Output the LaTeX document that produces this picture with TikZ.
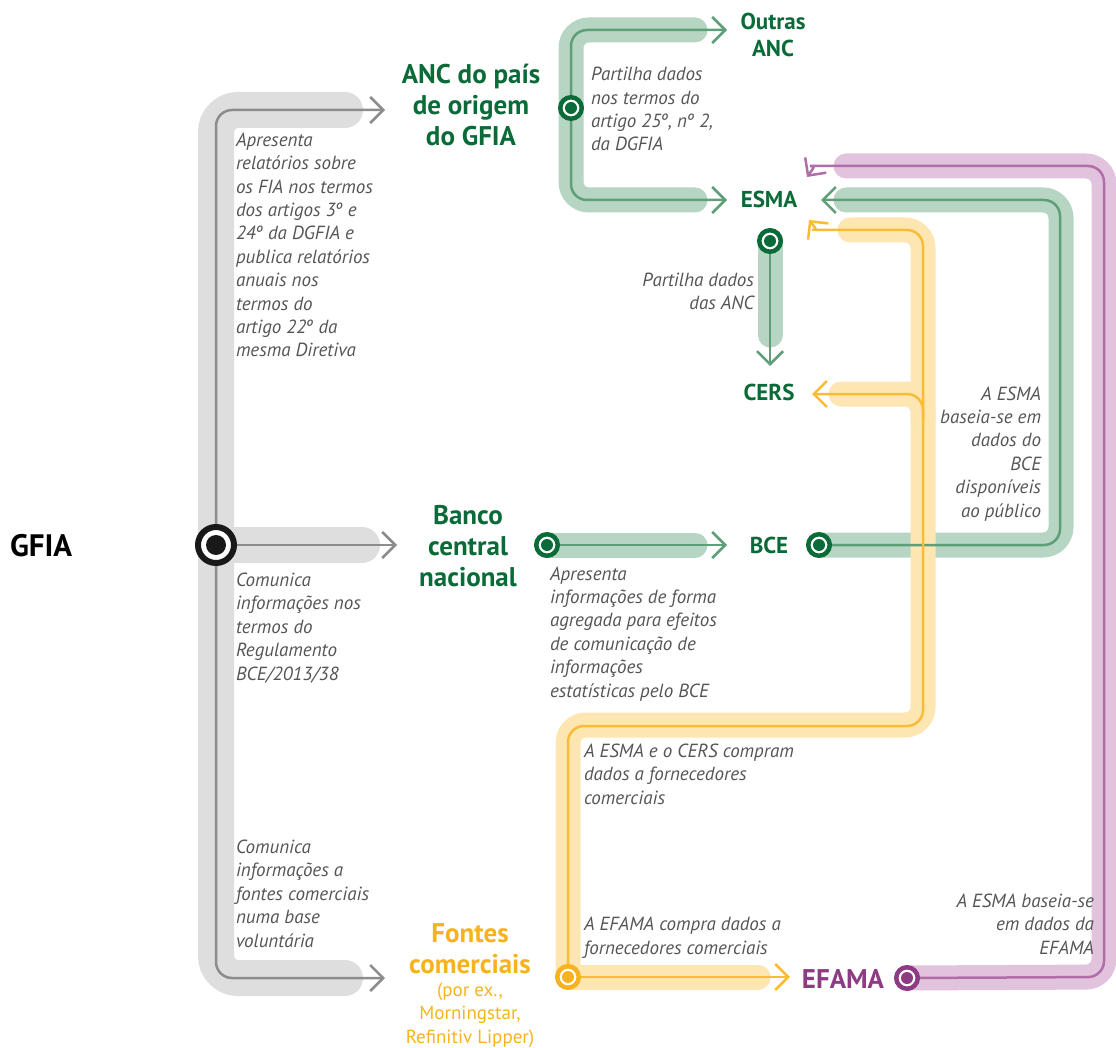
\documentclass[tikz,border=0pt]{standalone}
\usepackage{fontspec}
\setmainfont{PT Sans}
\usetikzlibrary{arrows.meta}
\definecolor{gband}{HTML}{DEDEDF}
\definecolor{gline}{HTML}{8C8C8C}
\definecolor{grband}{HTML}{B6D5C3}
\definecolor{grline}{HTML}{5E9E79}
\definecolor{grdark}{HTML}{0A6A38}
\definecolor{yband}{HTML}{FDE6B2}
\definecolor{yline}{HTML}{FBBC35}
\definecolor{ytext}{HTML}{F7B31F}
\definecolor{pband}{HTML}{E2C3DD}
\definecolor{pline}{HTML}{B16DA7}
\definecolor{pdark}{HTML}{8D3B82}
\definecolor{txt}{HTML}{555555}
\pgfdeclarelayer{bandlayer}
\pgfdeclarelayer{linelayer}
\pgfsetlayers{bandlayer,linelayer,main}
\begin{document}
\begin{tikzpicture}[x=1pt,y=-1pt,
  every node/.style={inner sep=0pt, outer sep=0pt},
  note/.style={font=\itshape\fontsize{19}{23.4}\selectfont, text=txt},
  noteL/.style={note, align=left, anchor=base west},
  noteR/.style={note, align=right, anchor=base east},
  labA/.style={font=\bfseries\fontsize{27}{31}\selectfont, text=grdark, align=center, anchor=base},
  labB/.style={font=\bfseries\fontsize{23}{27}\selectfont, text=grdark, align=center, anchor=base},
  bandG/.style={draw=gband, line width=36pt, line cap=round, rounded corners=22pt},
  bandC/.style={draw=#1, line width=25pt, line cap=round, rounded corners=18pt},
  thin/.style={draw=#1, line width=2.5pt, rounded corners=16pt},
  arr/.style={-{Straight Barb[length=13pt,width=26pt]}},
  station/.style={circle, fill=white, draw=#1, line width=4.5pt, minimum size=21.5pt,
    path picture={\fill[#1] (path picture bounding box.center) circle (6pt);}},
  bigstation/.style={circle, fill=white, draw=black!90, line width=6pt, minimum size=36pt,
    path picture={\fill[black!90] (path picture bounding box.center) circle (10pt);}}
]
\useasboundingbox (0,0) rectangle (1116,1048);

% ---------- stations ----------
\node[bigstation] (gfia) at (216,545) {};
\node[station=grdark] (sANC) at (571,108) {};
\node[station=grdark] (sESMA) at (770,241) {};
\node[station=grdark] (sBanco) at (547,545) {};
\node[station=grdark] (sBCE) at (819,545) {};
\node[station=ytext] (sFontes) at (568,977) {};
\node[station=pdark] (sEFAMA) at (907,978) {};

% ---------- arrow tips ----------
\coordinate (aANC) at (385,110);
\coordinate (aBanco) at (397,545);
\coordinate (aFontes) at (385,978);
\coordinate (aOutras) at (727,30);
\coordinate (aESMA1) at (727,200);
\coordinate (aCERS1) at (770,366);
\coordinate (aBCE) at (727,545);
\coordinate (aESMA2) at (821,200);
\coordinate (aESMA3) at (809,220);
\coordinate (aCERS2) at (812,394);
\coordinate (aEFAMA) at (790,977);
\coordinate (aESMA4) at (807,177);
\coordinate (ySplit) at (923,420);

% ---------- labels (anchor = baseline of last line) ----------
\node[font=\bfseries\fontsize{31}{36}\selectfont, anchor=base west] (gfiaL) at (10,556) {GFIA};
\node[labA] (ancL) at (471,146) {ANC do país\\de origem\\do GFIA};
\node[labB] (outras) at (773,57) {Outras\\ANC};
\node[labB] (esma) at (769,208) {ESMA};
\node[labB] (cers) at (769,400) {CERS};
\node[labB] (bce) at (769,553) {BCE};
\node[labA] (banco) at (468,586) {Banco\\central\\nacional};
\node[labA, text=ytext] (fontes) at (470,973) {Fontes\\comerciais};
\node[font=\fontsize{19}{23.5}\selectfont, text=ytext, align=center, anchor=base] (fontesex) at (470,1043) {(por ex.,\\Morningstar,\\Refinitiv Lipper)};
\node[font=\bfseries\fontsize{27}{30}\selectfont, text=pdark, anchor=base] (efama) at (843,988) {EFAMA};

% ---------- notes ----------
\node[noteL] (n1) at (236,357) {Apresenta\\relatórios sobre\\os FIA nos termos\\dos artigos 3º e\\24º da DGFIA e\\publica relatórios\\anuais nos\\termos do\\artigo 22º da\\mesma Diretiva};
\node[noteL] (n2) at (236,680) {Comunica\\informações nos\\termos do\\Regulamento\\BCE/2013/38};
\node[noteL] (n3) at (236,947) {Comunica\\informações a\\fontes comerciais\\numa base\\voluntária};
\node[noteL] (n4) at (591,151) {Partilha dados\\nos termos do\\artigo 25º, nº 2,\\da DGFIA};
\node[noteR] (n5) at (754,310) {Partilha dados\\das ANC};
\node[noteL] (n6) at (550,697) {Apresenta\\informações de forma\\agregada para efeitos\\de comunicação de\\informações\\estatísticas pelo BCE};
\node[noteR] (n7) at (1041,517) {A ESMA\\baseia-se em\\dados do\\BCE\\disponíveis\\ao público};
\node[noteL] (n8) at (584,804) {A ESMA e o CERS compram\\dados a fornecedores\\comerciais};
\node[noteL] (n9) at (584,954) {A EFAMA compra dados a\\fornecedores comerciais};
\node[noteR] (n10) at (1094,954) {A ESMA baseia-se\\em dados da\\EFAMA};

% ---------- bands ----------
\begin{pgfonlayer}{bandlayer}
\draw[bandG] (345,110) -- (216,110) -- (216,978) -- (345,978);
\draw[bandG] (gfia.center) -- (362,545);
\draw[bandC=grband] (695,30) -- (571,30) -- (571,200) -- (695,200);
\draw[bandC=grband] (sESMA.center) -- (770,335);
\draw[bandC=grband] (sBanco.center) -- (695,545);
\draw[bandC=grband] (sBCE.center) -- (1061,545) -- (1061,200) -- (846,200);
\draw[bandC=pband] (sEFAMA.center) -- (1104,977) -- (1104,166) -- (846,166);
\draw[bandC=yband] (sFontes.center) -- (758,977);
\draw[bandC=yband] (sFontes.center) -- (568,725) -- (923,725) -- (923,230) -- (850,230);
\draw[bandC=yband] (ySplit) -- (923,394) -- (841,394);
\end{pgfonlayer}

% ---------- lines ----------
\begin{pgfonlayer}{linelayer}
\draw[thin=gline, arr] (gfia.center) |- (aANC);
\draw[thin=gline, arr] (gfia.center) -- (aBanco);
\draw[thin=gline, arr] (gfia.center) |- (aFontes);
\draw[thin=grline, arr] (sANC.center) |- (aOutras);
\draw[thin=grline, arr] (sANC.center) |- (aESMA1);
\draw[thin=grline, arr] (sESMA.center) -- (aCERS1);
\draw[thin=grline, arr] (sBanco.center) -- (aBCE);
\draw[thin=grline, arr] (sBCE.center) -- (1060,545) -- (1060,200) -- (aESMA2);
\draw[thin=pline, arr] (sEFAMA.center) -- (1104,977) -- (1104,166) -- (826,166) [sharp corners] .. controls (815,166) .. (aESMA4);
\draw[thin=yline, arr] (sFontes.center) -- (aEFAMA);
\draw[thin=yline, arr] (sFontes.center) -- (568,726) -- (923,726) -- (923,230) -- (828,230) [sharp corners] .. controls (817,230) .. (aESMA3);
\draw[thin=yline, arr] (ySplit) -- (923,394) -- (aCERS2);
\end{pgfonlayer}
\end{tikzpicture}
\end{document}
